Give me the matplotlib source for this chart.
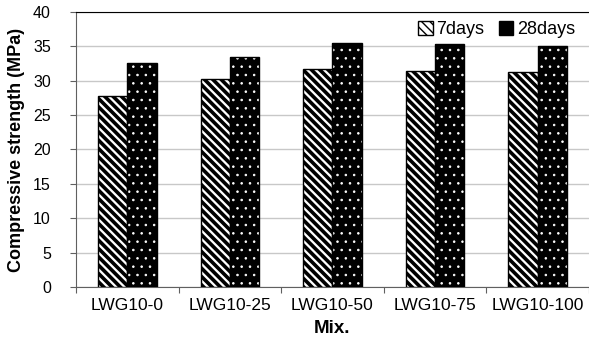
import matplotlib
matplotlib.use('Agg')
import matplotlib.pyplot as plt
import numpy as np
from matplotlib.patches import Patch

mixes = ['LWG10-0', 'LWG10-25', 'LWG10-50', 'LWG10-75', 'LWG10-100']
days7 = [27.8, 30.2, 31.7, 31.4, 31.2]
days28 = [32.6, 33.4, 35.5, 35.4, 35.0]

plt.rcParams['font.family'] = ['Liberation Sans', 'DejaVu Sans']

fig = plt.figure(figsize=(5.89, 3.39), dpi=100)
ax = fig.add_axes([0.129, 0.1534, 0.871, 0.8112])

x = np.arange(len(mixes))
w = 0.285

b7 = ax.bar(x - w / 2, days7, w, color='white', edgecolor='black',
            hatch='\\\\\\\\', linewidth=1, zorder=3)
b28 = ax.bar(x + w / 2, days28, w, color='black', edgecolor='white',
             hatch='..', linewidth=0, zorder=3)
ax.bar(x + w / 2, days28, w, fill=False, edgecolor='black', linewidth=1,
       zorder=4)
for p in b7:
    p.set_hatch_linewidth(2.6)
for p in b28:
    p.set_hatch_linewidth(0.6)

h1 = Patch(facecolor='white', edgecolor='black', hatch='\\\\\\\\')
h1.set_hatch_linewidth(1.5)
h2 = Patch(facecolor='black', edgecolor='black')
ax.legend([h1, h2], ['7days', '28days'], loc='upper right', ncol=2,
          frameon=False, fontsize=13, handlelength=0.8, handleheight=0.8,
          handletextpad=0.2, columnspacing=0.8, borderaxespad=0.1,
          bbox_to_anchor=(0.99, 1.0))

ax.set_xlim(-0.5, len(mixes) - 0.5)
ax.set_ylim(0, 40)
ax.set_yticks(range(0, 41, 5))
ax.yaxis.grid(True, color='#c8c8c8', linewidth=1)
ax.set_axisbelow(True)

ax.set_xticks(np.arange(-0.5, len(mixes), 1.0))
ax.set_xticklabels([])
ax.set_xticks(x, minor=True)
ax.set_xticklabels(mixes, minor=True, fontsize=12.5)
ax.tick_params(axis='x', which='minor', length=0, pad=8)
ax.tick_params(axis='x', which='major', length=4, color='#606060')
ax.tick_params(axis='y', labelsize=11.5, length=4, color='#606060', pad=14)

ax.spines['right'].set_visible(False)
ax.spines['top'].set_color('black')
ax.spines['left'].set_color('#606060')
ax.spines['bottom'].set_color('#606060')

ax.set_xlabel('Mix.', fontsize=13.5, fontweight='bold', labelpad=5)
ax.set_ylabel('Compressive strength (MPa)', fontsize=13, fontweight='bold',
              labelpad=6)

fig.savefig('out.png', dpi=100)
